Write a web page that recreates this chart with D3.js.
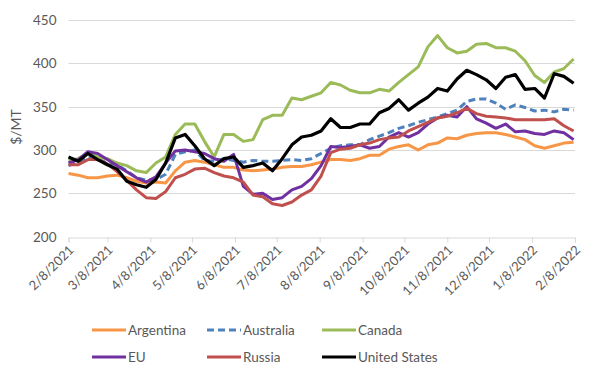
<!DOCTYPE html>
<html><head><meta charset="utf-8">
<script src="https://cdn.jsdelivr.net/npm/d3@7"></script>
<style>body{margin:0;background:#fff}svg{display:block}</style>
</head><body><svg id="c" width="596" height="381"></svg>
<script>
const startDate = "2021-02-08";
const weeks = 53;
const argentina = [273,271,268,268,270,271,268,264,262,263,262,276,286,288,286,283,280,280,277,276,277,278,280,281,281,283,286,289,289,288,290,294,294,301,304,306,300,306,308,314,313,317,319,320,320,318,315,312,305,302,305,308,309];
const australia = [282,286,292,290,285,283,276,268,265,266,272,295,298,300,288,287,290,288,286,288,287,287,288,289,288,290,296,302,305,306,306,312,316,320,325,328,332,335,338,342,346,356,359,359,354,347,352,349,345,346,344,347,346];
const canada = [288,290,296,292,290,285,282,276,274,285,292,318,330,330,310,292,318,318,310,312,335,340,340,360,358,362,366,378,375,369,366,366,370,368,378,387,396,419,432,418,412,414,422,423,418,418,414,403,386,378,390,394,405];
const eu = [285,289,298,296,289,282,275,268,263,269,285,299,300,298,296,290,287,295,258,249,250,243,245,254,258,267,282,304,303,304,306,302,304,315,320,315,320,330,337,340,338,350,336,331,325,330,321,322,319,318,322,320,312];
const russia = [283,283,289,289,284,275,265,254,245,244,252,268,272,278,279,274,270,268,263,248,246,238,236,240,248,254,270,297,301,302,306,308,312,314,315,322,327,332,337,339,343,348,342,339,338,337,335,335,335,335,336,328,322];
const unitedStates = [292,287,296,289,283,278,264,260,257,266,285,314,318,305,290,282,290,292,280,282,285,276,290,306,315,317,322,336,326,326,330,330,343,348,358,346,354,361,371,368,382,392,387,381,371,384,387,370,371,360,388,385,377];
const seriesNames = ["Argentina","Australia","Canada","EU","Russia","United States"];
const xTickLabels = ["2/8/2021","3/8/2021","4/8/2021","5/8/2021","6/8/2021","7/8/2021","8/8/2021","9/8/2021","10/8/2021","11/8/2021","12/8/2021","1/8/2022","2/8/2022"];
const yTicks = [200,250,300,350,400,450];

const values = [argentina, australia, canada, eu, russia, unitedStates];
const colors = ["#F79646","#4F81BD","#9BBB59","#7030A0","#C0504D","#000000"];
const dashes = [null,"7,4",null,null,null,null];
const widths = [3,3,3,3,3,3.2];

const parse = d3.timeParse("%Y-%m-%d");
const parseTick = d3.timeParse("%m/%d/%Y");
const t0 = parse(startDate);
const dates = d3.range(weeks).map(i => d3.timeDay.offset(t0, 7*i));
const tickDates = xTickLabels.map(s => parseTick(s));

const svg = d3.select("#c");
const font = "Lato, 'Open Sans', sans-serif";
const x = d3.scaleTime().domain([tickDates[0], tickDates[tickDates.length-1]]).range([68.5, 575]);
const y = d3.scaleLinear().domain([200, 450]).range([236.7, 20]);

// gridlines
svg.append("g").selectAll("line").data(yTicks.filter(v=>v>200)).join("line")
  .attr("x1", 68.5).attr("x2", 575).attr("y1", d=>Math.round(y(d))+0.5).attr("y2", d=>Math.round(y(d))+0.5)
  .attr("stroke", "#d9d9d9").attr("stroke-width", 1);

// y axis labels
const ya = svg.append("g").attr("transform", "translate(68.5,0)")
  .call(d3.axisLeft(y).tickValues(yTicks).tickSize(0).tickPadding(12));
ya.select(".domain").remove();
ya.selectAll("text").attr("font-family", font).attr("font-size", 13.5).attr("fill", "#595959");

// x axis
const xa = svg.append("g").attr("transform", `translate(0,${Math.round(y(200))+0.5})`)
  .call(d3.axisBottom(x).tickValues(tickDates).tickSize(5).tickFormat((d,i)=>xTickLabels[i]));
xa.select(".domain").attr("stroke", "#d9d9d9");
xa.selectAll(".tick line").attr("stroke", "#d9d9d9");
xa.selectAll("text").attr("font-family", font).attr("font-size", 13).attr("fill", "#595959")
  .attr("text-anchor", "end").attr("transform", "translate(0,4) rotate(-45)").attr("dy", "0.35em").attr("dx", "-0.2em").attr("y", 6);

// y title
svg.append("text").attr("transform", "translate(21,127) rotate(-90)").attr("text-anchor", "middle")
  .attr("font-family", font).attr("font-size", 14).attr("fill", "#595959").text("$/MT");

// lines
const line = d3.line().x((d,i)=>x(dates[i])).y(d=>y(d)).curve(d3.curveLinear);
values.forEach((vals, k) => {
  svg.append("path").datum(vals).attr("d", line).attr("fill", "none")
    .attr("stroke", colors[k]).attr("stroke-width", widths[k]).attr("stroke-linejoin", "round")
    .attr("stroke-dasharray", dashes[k]);
});

// legend
const legX = [92, 207, 322];
const legY = [330, 357];
seriesNames.forEach((n, k) => {
  const lx = legX[k % 3], ly = legY[Math.floor(k / 3)];
  svg.append("line").attr("x1", lx).attr("x2", lx + 34).attr("y1", ly).attr("y2", ly)
    .attr("stroke", colors[k]).attr("stroke-width", 3).attr("stroke-dasharray", dashes[k]);
  svg.append("text").attr("x", k % 3 === 1 ? lx + 36 : lx + 36).attr("y", ly).attr("dy", "0.35em")
    .attr("font-family", font).attr("font-size", 13.5).attr("fill", "#595959").text(n);
});
</script></body></html>
